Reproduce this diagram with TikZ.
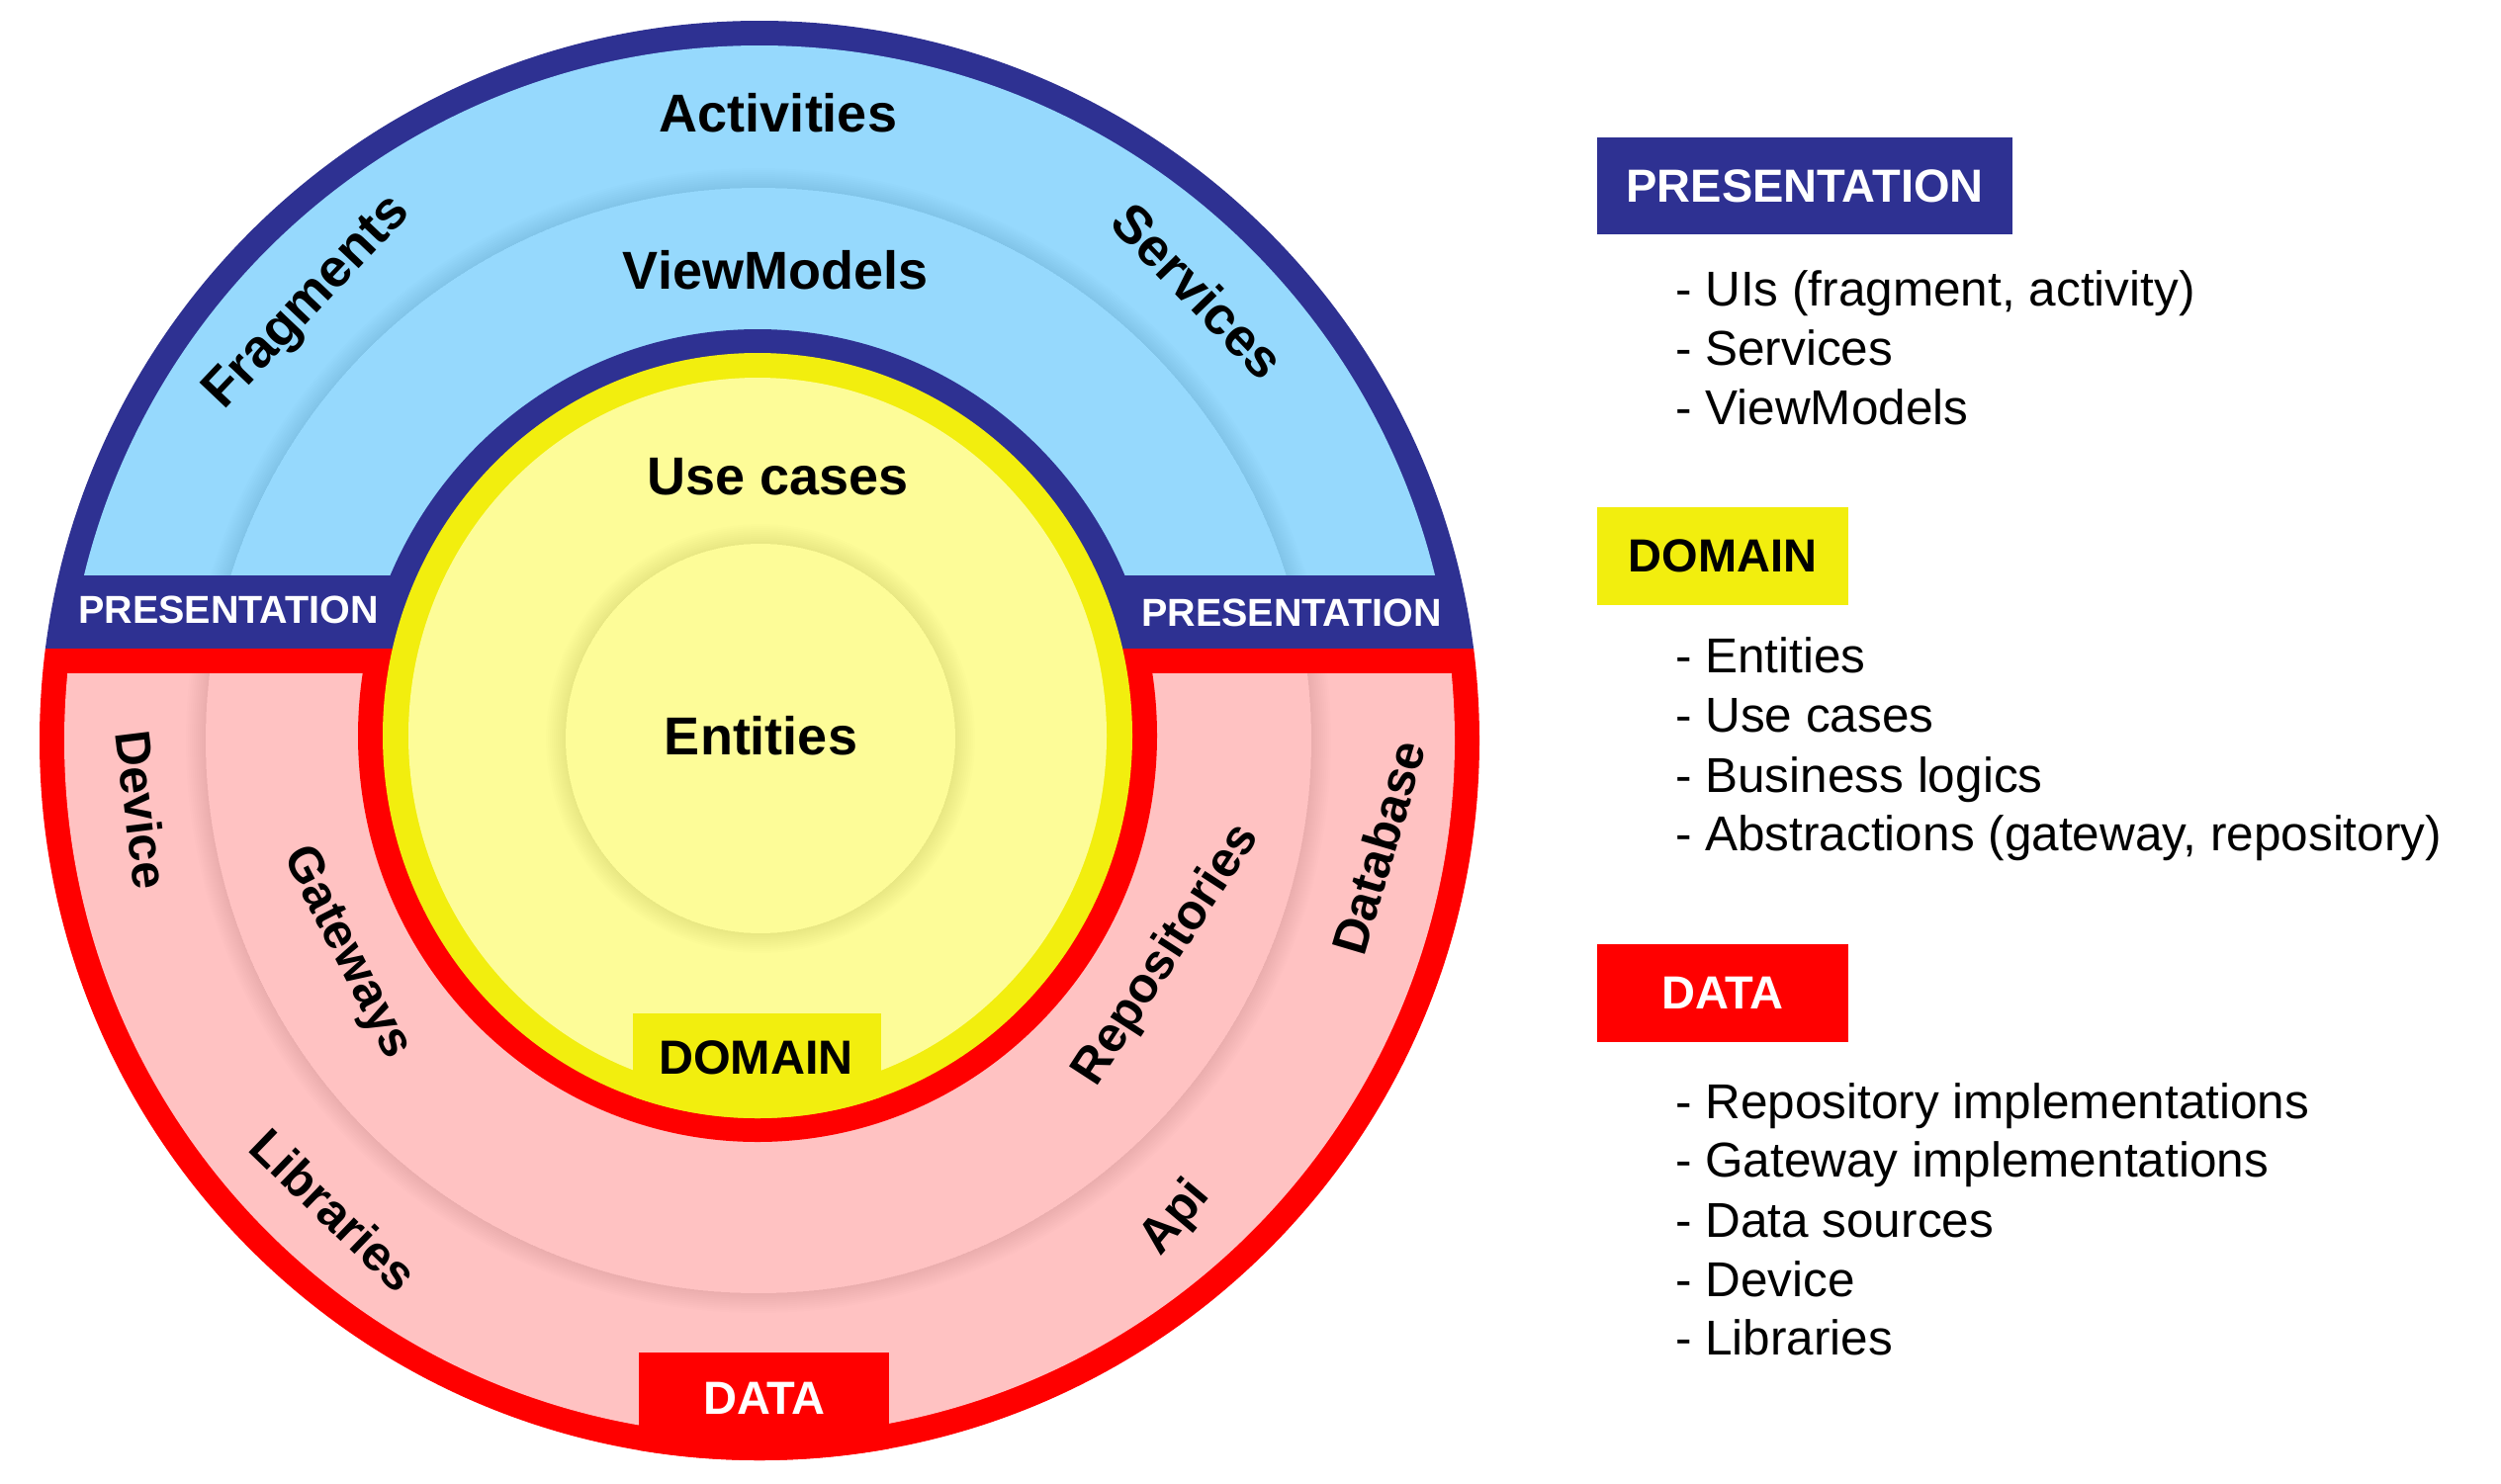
\documentclass[tikz,border=0pt]{standalone}
\usepackage{fontspec}
\setmainfont{Liberation Sans}
\definecolor{pblue}{HTML}{2E3192}
\definecolor{skyfill}{HTML}{96D9FD}
\definecolor{dred}{HTML}{FF0000}
\definecolor{pinkfill}{HTML}{FFC2C2}
\definecolor{yring}{HTML}{F2EE0E}
\definecolor{yfill}{HTML}{FDFC98}
% soft glow just outside a circle of given radius (in pt)
\newcommand\glowring[2]{%
  \foreach \w in {2,4,...,20}{%
    \draw[black,draw opacity=0.009,line width=\w pt] (#1) circle[radius={(#2+\w/2)*1pt}];}}
\begin{document}
\begin{tikzpicture}[x=1pt,y=-1pt,
  lbl/.style={font=\fontsize{54}{60}\selectfont\bfseries, inner sep=0pt, text=black},
  lblsm/.style={font=\fontsize{50}{56}\selectfont\bfseries, inner sep=0pt, text=black},
  bandtxt/.style={font=\fontsize{39.5}{44}\selectfont\bfseries, inner sep=0pt, text=white},
  headbox/.style={font=\fontsize{47}{52}\selectfont\bfseries, inner sep=0pt, anchor=center},
  item/.style={font=\fontsize{49.5}{56}\selectfont, inner sep=0pt, anchor=base west},
]
\useasboundingbox (0,0) rectangle (2529,1500);

\coordinate (O) at (768,749);   % outer rings
\coordinate (S) at (767,749);   % separator circle
\coordinate (D) at (766,744);   % domain core
\coordinate (E) at (769,747);   % entities

% ---- outer disc: blue upper part, red lower part
\begin{scope}
  \clip (0,0) rectangle (1600,656);
  \fill[pblue] (O) circle[radius=728pt];
\end{scope}
\begin{scope}
  \clip (0,656) rectangle (1600,1500);
  \fill[dred] (O) circle[radius=728pt];
\end{scope}

% ---- presentation field
\begin{scope}
  \clip (0,0) rectangle (1600,581);
  \fill[skyfill] (O) circle[radius=703pt];
  \glowring{S}{559}
\end{scope}

% ---- data field
\begin{scope}
  \clip (0,681) rectangle (1600,1500);
  \fill[pinkfill] (O) circle[radius=703pt];
  \glowring{S}{559}
\end{scope}

% ---- domain core with its two rings
\begin{scope}
  \clip (0,0) rectangle (1600,656);
  \fill[pblue] (D) ellipse[x radius=404pt, y radius=411pt];
\end{scope}
\begin{scope}
  \clip (0,656) rectangle (1600,1500);
  \fill[dred] (D) ellipse[x radius=404pt, y radius=411pt];
\end{scope}
\fill[yring] (D) ellipse[x radius=379pt, y radius=387pt];
\fill[yfill] (D) ellipse[x radius=353pt, y radius=362pt];
\glowring{E}{197}

% ---- label boxes inside the rings
\begin{scope}
  \clip (D) ellipse[x radius=379pt, y radius=387pt];
  \fill[yring] (640,1025) rectangle (891,1200);
\end{scope}
\begin{scope}
  \clip (O) circle[radius=728pt];
  \fill[dred] (646,1368) rectangle (899,1500);
\end{scope}

% ---- ring texts
\node[lbl, anchor=base] (act) at (787,133) {Activities};
\node[lbl, anchor=base] (vm) at (784,292) {ViewModels};
\node[lbl, anchor=base] (uc) at (787,500) {Use cases};
\node[lbl, anchor=base] (ent) at (769.5,763) {Entities};
\node[lbl, rotate=46.5] (frag) at (312,307) {Fragments};
\node[lbl, rotate=-46] (serv) at (1212,294) {Services};
\node[lblsm, rotate=-83] (dev) at (144,819) {Device};
\node[lblsm, rotate=-63] (gate) at (350,964) {Gateways};
\node[lblsm, rotate=-44] (lib) at (338,1224) {Libraries};
\node[lblsm, rotate=57] (repo) at (1180,966) {Repositories};
\node[lblsm, rotate=73.5] (db) at (1394,857) {Database};
\node[lblsm, rotate=50] (api) at (1189,1232) {Api};

\node[bandtxt] (presL) at (231,617) {PRESENTATION};
\node[bandtxt] (presR) at (1306,619.5) {PRESENTATION};
\node[font=\fontsize{48.5}{54}\selectfont\bfseries, inner sep=0pt, text=black] (domtag) at (764.5,1070) {DOMAIN};
\node[font=\fontsize{47}{52}\selectfont\bfseries, inner sep=0pt, text=white] (datatag) at (773,1414) {DATA};

% ---- legend
\node[headbox, fill=pblue, text=white, minimum width=420pt, minimum height=98pt] (hpres) at (1825,188) {PRESENTATION};
\node[item] (p1) at (1694,309) {- UIs (fragment, activity)};
\node[item] (p2) at (1694,369.5) {- Services};
\node[item] (p3) at (1694,429) {- ViewModels};

\node[headbox, fill=yring, text=black, minimum width=254pt, minimum height=99pt] (hdom) at (1742,562.5) {DOMAIN};
\node[item] (d1) at (1694,680) {- Entities};
\node[item] (d2) at (1694,740) {- Use cases};
\node[item] (d3) at (1694,801) {- Business logics};
\node[item] (d4) at (1694,860) {- Abstractions (gateway, repository)};

\node[headbox, fill=dred, text=white, minimum width=254pt, minimum height=99pt] (hdata) at (1742,1004.5) {DATA};
\node[item] (a1) at (1694,1131) {- Repository implementations};
\node[item] (a2) at (1694,1190) {- Gateway implementations};
\node[item] (a3) at (1694,1251) {- Data sources};
\node[item] (a4) at (1694,1311) {- Device};
\node[item] (a5) at (1694,1370) {- Libraries};
\end{tikzpicture}
\end{document}
